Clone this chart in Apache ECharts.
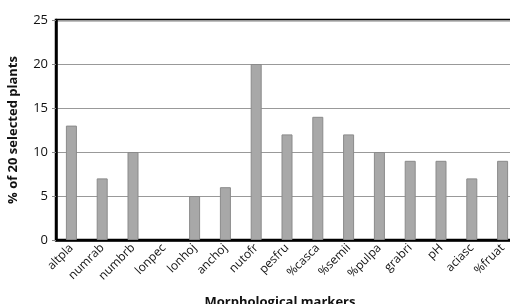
<!DOCTYPE html>
<html>
<head>
<meta charset="utf-8">
<script src="https://cdn.jsdelivr.net/npm/echarts@6/dist/echarts.min.js"></script>
<style>
  html, body { margin: 0; padding: 0; background: #fff; }
  #chart { width: 510px; height: 304px; }
</style>
</head>
<body>
<div id="chart"></div>
<script>
var markers = ['altpla', 'numrab', 'numbrb', 'lonpec', 'lonhoj', 'anchoj', 'nutofr', 'pesfru',
  '%casca', '%semii', '%pulpa', 'grabri', 'pH', 'aciasc', '%fruat'];
var percents = [13, 7, 10, 0, 5, 6, 20, 12, 14, 12, 10, 9, 9, 7, 9];

var chart = echarts.init(document.getElementById('chart'));
chart.setOption({
  animation: false,
  grid: {
    left: 56, right: -8, top: 20, bottom: 64,
    outerBoundsMode: 'none',
    show: true, borderColor: '#000', borderWidth: 2.5
  },
  xAxis: {
    type: 'category',
    data: markers,
    name: 'Morphological markers',
    nameLocation: 'middle',
    nameGap: 56,
    nameTextStyle: { fontFamily: 'Open Sans', fontWeight: 'bold', fontSize: 13, color: '#111', padding: [0, 0, 0, -14] },
    axisLine: { lineStyle: { color: '#000', width: 2.5 } },
    axisTick: { show: false },
    axisLabel: { rotate: 45, interval: 0, fontFamily: 'Open Sans', fontSize: 12, color: '#111', margin: 6 }
  },
  yAxis: {
    type: 'value',
    min: 0, max: 25, interval: 5,
    name: '% of 20 selected plants',
    nameLocation: 'middle',
    nameGap: 36,
    nameTextStyle: { fontFamily: 'Open Sans', fontWeight: 'bold', fontSize: 13, color: '#111' },
    axisLine: { show: true, lineStyle: { color: '#000', width: 2.5 } },
    axisTick: { show: true, length: 4, lineStyle: { color: '#888' } },
    axisLabel: { fontFamily: 'Open Sans', fontSize: 13, color: '#111', margin: 8 },
    splitLine: { lineStyle: { color: '#999', width: 1.2 } }
  },
  series: [{
    type: 'bar',
    data: percents.map(function (v) {
      return { value: v, itemStyle: { borderWidth: v === 0 ? 0 : 1 } };
    }),
    barWidth: 11,
    itemStyle: { color: '#a8a8a8', borderColor: '#8a8a8a', borderWidth: 1 }
  }]
});
</script>
</body>
</html>
